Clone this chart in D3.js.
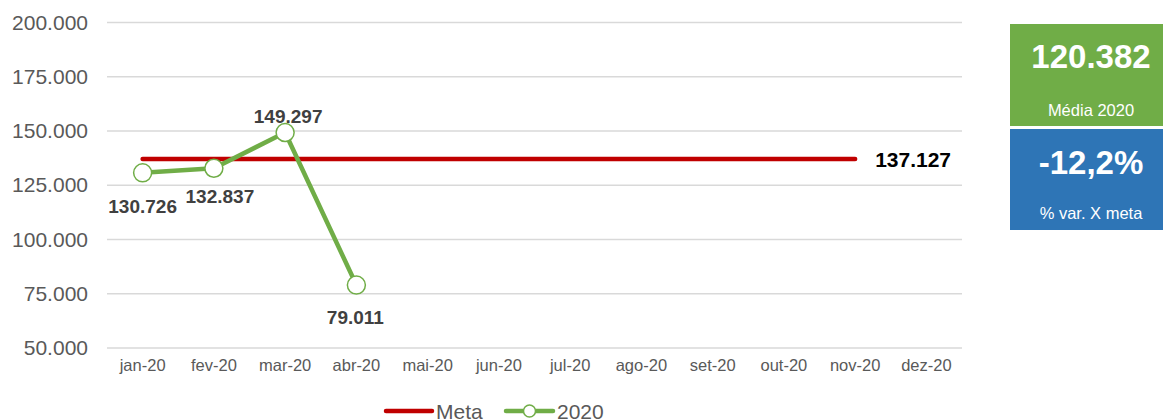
<!DOCTYPE html>
<html><head><meta charset="utf-8">
<script src="https://cdn.jsdelivr.net/npm/d3@7"></script>
<style>body{margin:0;background:#fff;font-family:"Liberation Sans",Arial,sans-serif;}</style>
</head><body><svg id="c" width="1163" height="419"></svg>
<script>
const categories = ["jan-20","fev-20","mar-20","abr-20","mai-20","jun-20","jul-20","ago-20","set-20","out-20","nov-20","dez-20"];
const values2020 = [130726, 132837, 149297, 79011];
const metaValues = [137127,137127,137127,137127,137127,137127,137127,137127,137127,137127,137127];
const yTicks = [50000,75000,100000,125000,150000,175000,200000];
const mediaLabel = "120.382", mediaText = "Média 2020";
const varLabel = "-12,2%", varText = "% var. X meta";

const fmt = v => d3.format(",")(v).replace(/,/g, ".");
const svg = d3.select("#c");
const x = d3.scaleBand().domain(categories).range([107, 962]);
const y = d3.scaleLinear().domain([50000, 200000]).range([348, 22.5]);
const cx = d => x(d) + x.bandwidth()/2;

// grid
svg.append("g").selectAll("line").data(yTicks).join("line")
  .attr("x1",107).attr("x2",962).attr("y1",d=>y(d)).attr("y2",d=>y(d))
  .attr("stroke","#d9d9d9").attr("stroke-width",1.5);
// y axis
const ya = svg.append("g").attr("transform","translate(88,0)")
  .call(d3.axisLeft(y).tickValues(yTicks).tickFormat(fmt).tickSize(0).tickPadding(0));
ya.select(".domain").remove();
ya.selectAll("text").attr("font-size",21).attr("fill","#595959").attr("font-family","Liberation Sans, Arial, sans-serif");
// x axis
const xa = svg.append("g").attr("transform","translate(0,348)")
  .call(d3.axisBottom(x).tickSize(0).tickPadding(11));
xa.select(".domain").remove();
xa.selectAll("text").attr("font-size",16.5).attr("fill","#595959").attr("font-family","Liberation Sans, Arial, sans-serif");

// meta line
const metaData = metaValues.map((v,i)=>({c:categories[i],v}));
svg.append("path").datum(metaData)
  .attr("d", d3.line().x(d=>cx(d.c)).y(d=>y(d.v)))
  .attr("fill","none").attr("stroke","#c00000").attr("stroke-width",4.5).attr("stroke-linecap","round");
const lastMeta = metaData[metaData.length-1];
svg.append("text").attr("x", cx(lastMeta.c)+20).attr("y", y(lastMeta.v)+8)
  .attr("font-size",21).attr("font-weight","bold").attr("fill","#000").text(fmt(lastMeta.v));

// 2020 line
const d20 = values2020.map((v,i)=>({c:categories[i],v}));
svg.append("path").datum(d20)
  .attr("d", d3.line().x(d=>cx(d.c)).y(d=>y(d.v)))
  .attr("fill","none").attr("stroke","#70ad47").attr("stroke-width",4.5).attr("stroke-linejoin","round");
svg.append("g").selectAll("circle").data(d20).join("circle")
  .attr("cx",d=>cx(d.c)).attr("cy",d=>y(d.v)).attr("r",9)
  .attr("fill","#fff").attr("stroke","#70ad47").attr("stroke-width",1.5);
const offs = [[0,40],[6,35],[3,-10],[-1,39]];
svg.append("g").selectAll("text").data(d20).join("text")
  .attr("x",(d,i)=>cx(d.c)+offs[i][0]).attr("y",(d,i)=>y(d.v)+offs[i][1])
  .attr("text-anchor","middle").attr("font-size",19).attr("font-weight","bold").attr("fill","#404040")
  .text(d=>fmt(d.v));

// legend
const lg = svg.append("g");
lg.append("line").attr("x1",386).attr("x2",432).attr("y1",411).attr("y2",411).attr("stroke","#c00000").attr("stroke-width",4.5).attr("stroke-linecap","round");
lg.append("text").attr("x",436).attr("y",419).attr("font-size",21).attr("fill","#595959").text("Meta");
lg.append("line").attr("x1",506).attr("x2",553).attr("y1",411).attr("y2",411).attr("stroke","#70ad47").attr("stroke-width",4.5).attr("stroke-linecap","round");
lg.append("circle").attr("cx",529.5).attr("cy",411).attr("r",6).attr("fill","#fff").attr("stroke","#70ad47").attr("stroke-width",1.5);
lg.append("text").attr("x",557).attr("y",419).attr("font-size",21).attr("fill","#595959").text("2020");

// KPI boxes
const boxes = [
  {y0:24, h:102, fill:"#70ad47", big:mediaLabel, small:mediaText, bo:44, so:92},
  {y0:129, h:101, fill:"#2e75b6", big:varLabel, small:varText, bo:45, so:90}
];
const bg = svg.append("g").selectAll("g").data(boxes).join("g");
bg.append("rect").attr("x",1010).attr("y",d=>d.y0).attr("width",153).attr("height",d=>d.h).attr("fill",d=>d.fill);
bg.append("text").attr("x",1091).attr("y",d=>d.y0+d.bo).attr("text-anchor","middle")
  .attr("font-size",33).attr("font-weight","bold").attr("fill","#fff").text(d=>d.big);
bg.append("text").attr("x",1091).attr("y",d=>d.y0+d.so).attr("text-anchor","middle")
  .attr("font-size",16.5).attr("fill","#fff").text(d=>d.small);
</script></body></html>
